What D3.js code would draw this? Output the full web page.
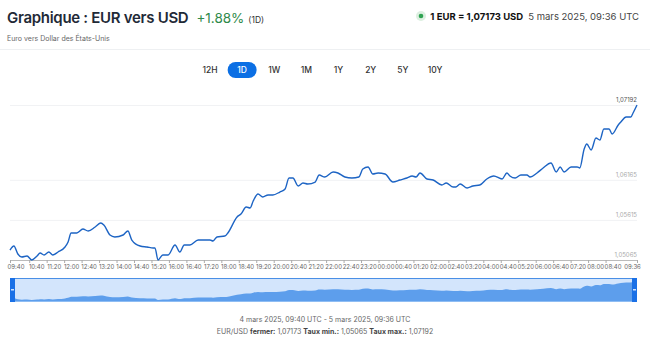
<!DOCTYPE html>
<html><head><meta charset="utf-8">
<script src="https://cdn.jsdelivr.net/npm/d3@7"></script>
<style>body{margin:0;background:#fff;font-family:Inter,"Noto Sans",sans-serif}svg{display:block}</style>
</head><body><svg id="c" width="650" height="347"></svg>
<script>
const times = ["09:40","09:49","09:58","10:07","10:19","10:30","10:42","10:49","10:58","11:09","11:18","11:30","11:46","11:53","12:00","12:13","12:27","12:39","12:55","13:08","13:15","13:29","13:40","13:59","14:10","14:19","14:38","14:54","15:08","15:12","15:19","15:30","15:42","15:58","16:09","16:19","16:32","16:51","17:18","17:25","17:34","17:52","17:59","18:20","18:29","18:41","18:50","18:57","19:08","19:19","19:31","19:42","19:58","20:10","20:19","20:28","20:40","20:51","21:02","21:19","21:28","21:41","22:00","22:11","22:27","22:43","22:59","23:08","23:20","23:31","23:43","23:59","00:17","00:33","00:49","01:01","01:10","01:19","01:35","01:49","02:09","02:19","02:35","02:41","02:51","03:07","03:20","03:36","03:52","04:08","04:27","04:38","04:45","04:57","05:10","05:24","05:31","05:47","06:01","06:19","06:31","06:40","06:49","07:05","07:19","07:25","07:35","07:41","07:51","08:02","08:11","08:20","08:32","08:39","08:53","08:59","09:11","09:22","09:27","09:36"];
const values = [1.05202,1.05257,1.05147,1.05106,1.05120,1.05065,1.05120,1.05161,1.05134,1.05175,1.05134,1.05175,1.05243,1.05312,1.05436,1.05436,1.05490,1.05463,1.05518,1.05573,1.05545,1.05408,1.05381,1.05408,1.05463,1.05339,1.05257,1.05243,1.05230,1.05230,1.05065,1.05134,1.05134,1.05271,1.05175,1.05271,1.05271,1.05339,1.05339,1.05326,1.05381,1.05394,1.05436,1.05655,1.05696,1.05792,1.05779,1.05875,1.05971,1.05930,1.05957,1.05957,1.05998,1.06039,1.06190,1.06190,1.06081,1.06122,1.06108,1.06135,1.06231,1.06204,1.06273,1.06259,1.06204,1.06190,1.06204,1.06314,1.06341,1.06245,1.06259,1.06245,1.06135,1.06163,1.06190,1.06218,1.06204,1.06259,1.06177,1.06163,1.06094,1.06122,1.06067,1.06067,1.06108,1.06053,1.06081,1.06094,1.06177,1.06218,1.06177,1.06259,1.06218,1.06190,1.06231,1.06231,1.06204,1.06259,1.06328,1.06396,1.06273,1.06341,1.06273,1.06341,1.06341,1.06328,1.06588,1.06657,1.06575,1.06739,1.06712,1.06863,1.06863,1.06794,1.06918,1.06959,1.07027,1.07027,1.07082,1.07192];
const xTickLabels = ["09:40","10:40","11:20","12:00","12:40","13:20","14:00","14:40","15:20","16:00","16:40","17:20","18:00","18:40","19:20","20:00","20:40","21:20","22:00","22:40","23:20","00:00","00:40","01:20","02:00","02:40","03:20","04:00","04:40","05:20","06:00","06:40","07:20","08:00","08:40","09:36"];
const yTicks = [1.05065,1.05615,1.06165,1.07192];
const ranges = ["12H","1D","1W","1M","1Y","2Y","5Y","10Y"];
const activeRange = "1D";

function toDates(arr){
  let day = 4, prev = -1;
  return arr.map(s => {
    const [h,m] = s.split(":").map(Number);
    const mins = h*60+m;
    if (prev >= 0 && mins < prev) day++;
    prev = mins;
    return new Date(Date.UTC(2025,2,day,h,m));
  });
}
const dates = toDates(times);
const data = dates.map((d,i)=>({d, v: values[i]}));
const tickDates = toDates(xTickLabels);
const fr = v => d3.format(".5f")(v).replace(".", ",");

const svg = d3.select("#c");
const F = 'Inter, "Noto Sans", sans-serif';

// Header
const title = svg.append("text").attr("x",7).attr("y",23).attr("font-family",F);
title.append("tspan").text("Graphique : EUR vers USD").attr("font-size",15).attr("letter-spacing",-0.3).attr("font-weight",600).attr("fill","#1f2a37");
title.append("tspan").text("+1.88%").attr("dx",8).attr("font-size",13.5).attr("letter-spacing",0).attr("fill","#2f8a4a");
title.append("tspan").text("(1D)").attr("dx",4).attr("font-size",8.5).attr("fill","#333");
svg.append("text").attr("x",7).attr("y",41).attr("font-size",7).attr("fill","#666").attr("font-family",F).text("Euro vers Dollar des États-Unis");

svg.append("circle").attr("cx",421).attr("cy",16).attr("r",5).attr("fill","#dcefe0");
svg.append("circle").attr("cx",421).attr("cy",16).attr("r",2.3).attr("fill","#2fa352");
const rt = svg.append("text").attr("x",639).attr("y",19.5).attr("text-anchor","end").attr("font-family",F).attr("font-size",9.5);
rt.append("tspan").text("1 EUR = 1,07173 USD").attr("font-weight",700).attr("fill","#111");
rt.append("tspan").text("5 mars 2025, 09:36 UTC").attr("dx",5).attr("fill","#444");
svg.append("line").attr("x1",0).attr("x2",650).attr("y1",49.5).attr("y2",49.5).attr("stroke","#eef0f2");

// Range buttons
const bx = d3.scalePoint().domain(ranges).range([210,435]);
const bg = svg.append("g");
ranges.forEach(r=>{
  if (r===activeRange) bg.append("rect").attr("x",bx(r)-14.5).attr("y",62).attr("width",29).attr("height",16).attr("rx",8).attr("fill","#0b6fe4");
  bg.append("text").attr("x",bx(r)).attr("y",73).attr("text-anchor","middle").attr("font-family",F).attr("font-size",8.5).attr("font-weight",500)
    .attr("fill", r===activeRange ? "#fff" : "#333").text(r);
});

// Main chart
const x = d3.scaleUtc().domain(d3.extent(dates)).range([10,637]);
const y = d3.scaleLinear().domain(d3.extent(values)).range([260,105]);

const grid = svg.append("g");
yTicks.forEach((t,i)=>{
  if (i>0) grid.append("line").attr("x1",10).attr("x2",637).attr("y1",y(t)+0.5).attr("y2",y(t)+0.5).attr("stroke","#f1f2f4");
  grid.append("text").attr("x",637).attr("y",y(t)-3).attr("text-anchor","end").attr("font-family",F).attr("font-size",6)
    .attr("fill", i===yTicks.length-1 ? "#555" : "#aaa").text(fr(t));
});

const ax = svg.append("g").attr("transform","translate(0,260)")
  .call(d3.axisBottom(x).tickValues(tickDates).tickSize(3).tickFormat((d,i)=>xTickLabels[i]));
ax.select(".domain").attr("stroke","#bbb");
ax.selectAll(".tick line").attr("stroke","#aaa")
  .attr("transform",(d,i)=> (i===0||i===tickDates.length-1) ? null : "translate(-7,0)");
ax.selectAll(".tick text").attr("font-family",F).attr("font-size",6).attr("fill","#666").attr("y",5)
  .attr("dx",(d,i)=> i===0 ? 5.5 : (i===tickDates.length-1 ? -5 : 0));

svg.append("path").datum(data).attr("fill","none").attr("stroke","#1d64c4").attr("stroke-width",1.4).attr("stroke-linejoin","round")
  .attr("d", d3.line().x(d=>x(d.d)).y(d=>y(d.v)).curve(d3.curveMonotoneX));

// Navigator
const ny = d3.scaleLinear().domain(d3.extent(values)).range([300,281]);
svg.append("rect").attr("x",10).attr("y",278).attr("width",627).attr("height",24).attr("fill","#d3e5fc");
svg.append("path").datum(data).attr("fill","#5d9eec")
  .attr("d", d3.area().x(d=>x(d.d)).y0(302).y1(d=>ny(d.v)).curve(d3.curveMonotoneX));
svg.append("line").attr("x1",10).attr("x2",637).attr("y1",278.5).attr("y2",278.5).attr("stroke","#4a8fe6");
svg.append("line").attr("x1",10).attr("x2",637).attr("y1",301.5).attr("y2",301.5).attr("stroke","#8fbdf3");
[[10],[632]].forEach(([hx])=>{
  svg.append("rect").attr("x",hx).attr("y",278).attr("width",5).attr("height",24).attr("fill","#1a70e6");
  svg.append("rect").attr("x",hx+1).attr("y",289).attr("width",3).attr("height",1.5).attr("fill","#cfe2fb");
});

// Footer
svg.append("text").attr("x",325).attr("y",322).attr("text-anchor","middle").attr("font-family",F).attr("font-size",7).attr("fill","#666")
  .text("4 mars 2025, 09:40 UTC - 5 mars 2025, 09:36 UTC");
const ft = svg.append("text").attr("x",325).attr("y",333.5).attr("text-anchor","middle").attr("font-family",F).attr("font-size",7).attr("fill","#666");
[["EUR/USD ",400],["fermer:",700],[" "+fr(values[values.length-1]-0.00019)+" ",400],["Taux min.:",700],[" "+fr(d3.min(values))+" ",400],["Taux max.:",700],[" "+fr(d3.max(values)),400]]
  .forEach(([t,w])=>ft.append("tspan").attr("font-weight",w).attr("fill", w===700?"#444":"#666").text(t));
</script></body></html>
